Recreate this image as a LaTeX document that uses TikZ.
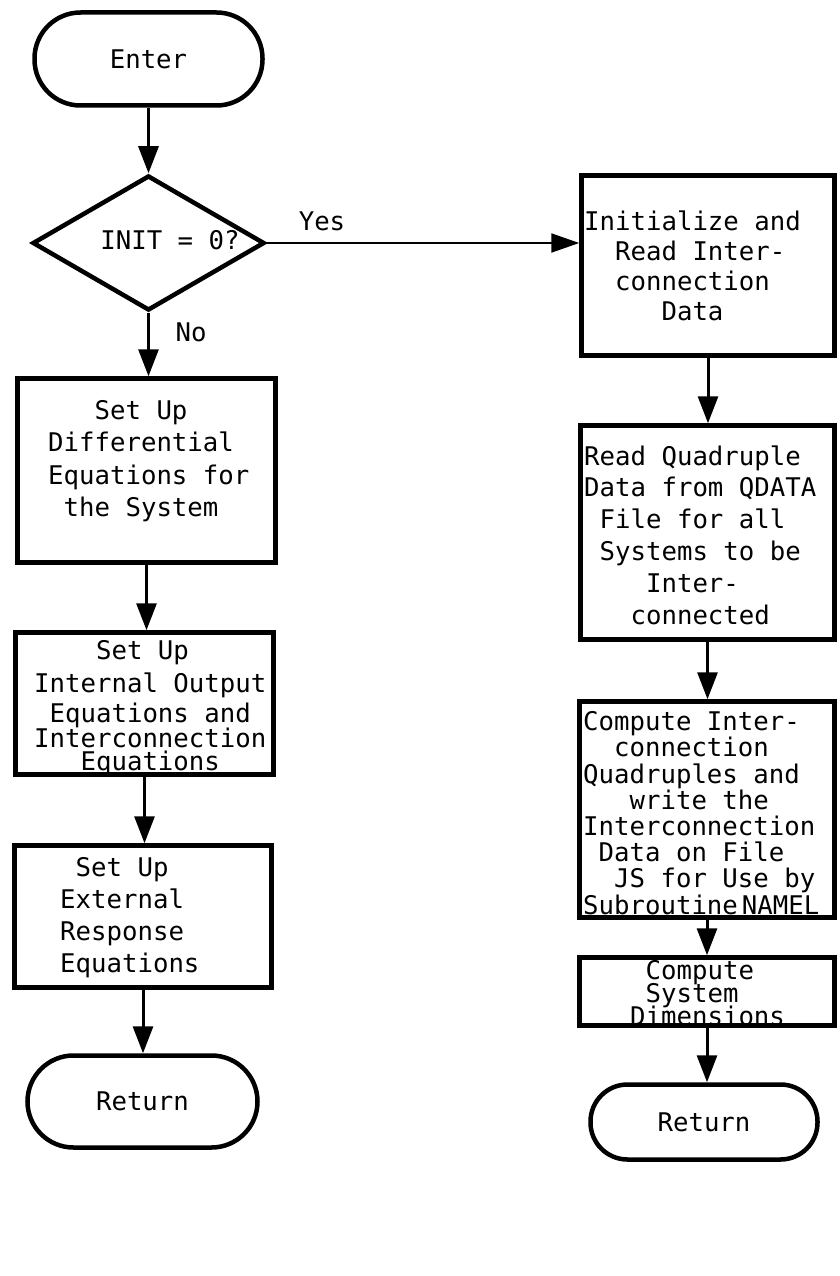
\documentclass[tikz,border=0pt]{standalone}
\usepackage{fontspec}
\newfontfamily\tw{DejaVu Sans Mono}
\usetikzlibrary{arrows.meta,shapes.geometric}
% allow lines to sit closer than their glyph heights
\newcommand\tightlines{\lineskiplimit=-50pt\relax}
\begin{document}
\begin{tikzpicture}[x=1pt,y=-1pt,
  box/.style={draw, line width=4.5pt, rectangle, inner sep=0pt},
  term/.style={draw, line width=4.5pt, rectangle, rounded corners=#1, inner sep=0pt,
    font=\tw\fontsize{25.7}{30}\selectfont},
  decision/.style={draw, line width=4.5pt, diamond, aspect=1.7, inner sep=0pt},
  lines/.style={font=\tw\fontsize{25.7}{#1}\selectfont\tightlines,
    align=left, inner sep=0pt, anchor=west},
  lbl/.style={font=\tw\fontsize{25.7}{30}\selectfont, inner sep=0pt},
  flow/.style={line width=3pt, -{Triangle[length=27pt,width=20pt]}},
  yesflow/.style={line width=2pt, -{Triangle[length=28pt,width=19pt]}}
]
\useasboundingbox[fill=white] (0,0) rectangle (839,1276);

% left column: regular pass
\node[term=46pt, minimum width=228pt, minimum height=93pt] (enter) at (148.5,59) {Enter};
\node[decision, minimum width=232pt, minimum height=135pt] (init) at (148.5,243) {};
\node[lbl] (initq) at (170,240) {INIT = 0?};
\node[box, minimum width=258pt, minimum height=184pt] (diff) at (146.5,470.5) {};
\node[box, minimum width=258pt, minimum height=142pt] (intout) at (144.5,703.5) {};
\node[box, minimum width=257pt, minimum height=142pt] (extresp) at (143,916.5) {};
\node[term=46pt, minimum width=230pt, minimum height=92pt] (retl) at (142.5,1101.5) {Return};

\node[lines=32.3] (difft) at (48,461) {\phantom{XXX}Set Up\\Differential\\Equations for\\\phantom{X}the System};
\node[lines=23] (intoutt) at (34,708) {\phantom{XXXX}Set Up\\[10pt]Internal Output\\[7pt]\phantom{X}Equations and\\[2pt]Interconnection\\\phantom{XXX}Equations};
\node[lines=32] (extrespt) at (60,918) {\phantom{X}Set Up\\External\\Response\\Equations};

% right column: initialization pass
\node[box, minimum width=253pt, minimum height=180pt] (initread) at (708,265.5) {};
\node[box, minimum width=254pt, minimum height=214pt] (quad) at (707.5,532.5) {};
\node[box, minimum width=255pt, minimum height=216pt] (compq) at (707,809.5) {};
\node[box, minimum width=255pt, minimum height=68pt] (dims) at (707,991.5) {};
\node[term=37pt, minimum width=227pt, minimum height=75pt] (retr) at (704,1122) {Return};

\node[lines=30] (initreadt) at (584,266) {Initialize and\\\phantom{XX}Read Inter-\\\phantom{XX}connection\\\phantom{XXXXX}Data};
\node[lines=31.8] (quadt) at (584,535) {Read Quadruple\\Data from QDATA\\\phantom{X}File for all\\\phantom{X}Systems to be\\\phantom{XXXX}Inter-\\\phantom{XXX}connected};
\node[lines=26.2] (compqt) at (583,813) {Compute Inter-\\\phantom{XX}connection\\Quadruples and\\\phantom{XXX}write the\\Interconnection\\\phantom{X}Data on File\\\phantom{XX}JS for Use by\\Subroutine\hspace{4pt}NAMEL};
\node[lines=23] (dimst) at (630,993) {\phantom{X}Compute\\\phantom{X}System\\Dimensions};

% branch labels
\node[lbl] (yes) at (322,221) {Yes};
\node[lbl] (no) at (191,332) {No};

% connectors
\draw[flow] (enter.south) -- (enter.south |- init.north);
\draw[flow] (init.south) -- (init.south |- diff.north);
\draw[flow] (diff.south) -- (diff.south |- intout.north);
\draw[flow] (intout.south) -- (intout.south |- extresp.north);
\draw[flow] (extresp.south) -- (extresp.south |- retl.north);
\draw[yesflow] (init.east) -- (init.east -| initread.west);
\draw[flow] (initread.south) -- (initread.south |- quad.north);
\draw[flow] (quad.south) -- (quad.south |- compq.north);
\draw[flow] (compq.south) -- (compq.south |- dims.north);
\draw[flow] (dims.south) -- (dims.south |- retr.north);
\end{tikzpicture}
\end{document}
